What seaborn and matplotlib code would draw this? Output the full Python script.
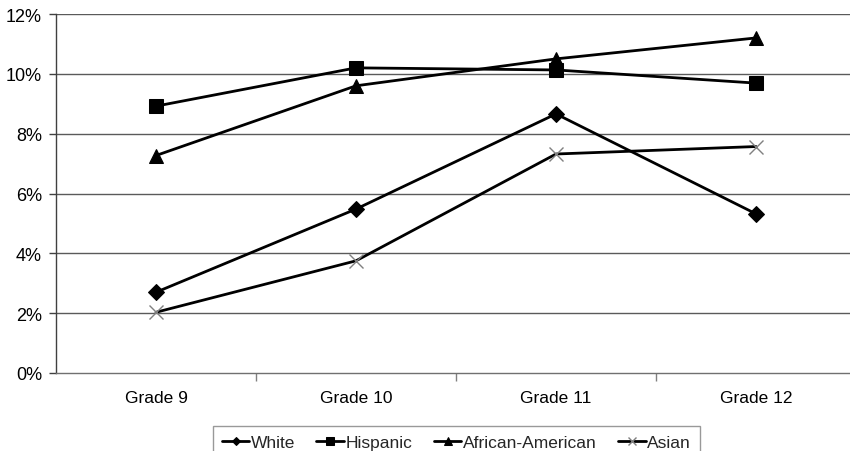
import matplotlib
matplotlib.use("Agg")
import matplotlib.pyplot as plt
import seaborn as sns
import pandas as pd
from matplotlib.ticker import FixedLocator, FuncFormatter

grades = ["Grade 9", "Grade 10", "Grade 11", "Grade 12"]
white = [2.7, 5.48, 8.66, 5.32]
hispanic = [8.92, 10.2, 10.13, 9.69]
african_american = [7.27, 9.6, 10.5, 11.2]
asian = [2.03, 3.75, 7.32, 7.57]
series_names = ["White", "Hispanic", "African-American", "Asian"]
y_ticks = [0, 2, 4, 6, 8, 10, 12]

sns.set_theme(style="white")
plt.rcParams["font.family"] = ["Liberation Sans", "DejaVu Sans"]

fig = plt.figure(figsize=(8.5, 4.52), dpi=100)
ax = fig.add_axes([56 / 850, 1 - 374 / 452, 800 / 850, 359 / 452])

# horizontal gridlines behind the series
for t in y_ticks[1:]:
    ax.axhline(t, color="#5a5a5a", lw=1.0, zorder=0)

styles = {
    "White": dict(marker="D", markersize=8, mec="black", mfc="black"),
    "Hispanic": dict(marker="s", markersize=10, mec="black", mfc="black"),
    "African-American": dict(marker="^", markersize=10, mec="black", mfc="black"),
    "Asian": dict(marker="x", markersize=10, mec="#808080", mew=1.0),
}
values = [white, hispanic, african_american, asian]

for name, vals in zip(series_names, values):
    df = pd.DataFrame({"grade": grades, "pct": vals})
    sns.lineplot(data=df, x="grade", y="pct", ax=ax, color="black", lw=2,
                 label=name, sort=False, zorder=3, **styles[name])

ax.set_xlim(-0.5, 3.5)
ax.set_ylim(0, 12)
ax.set_xlabel("")
ax.set_ylabel("")

ax.yaxis.set_major_locator(FixedLocator(y_ticks))
ax.yaxis.set_major_formatter(FuncFormatter(lambda v, p: f"{v:.0f}%"))
ax.tick_params(axis="y", which="major", direction="out", length=5, width=1,
               color="#404040", pad=5, labelsize=13, labelcolor="black", left=True)

ax.set_xticks(range(len(grades)))
ax.set_xticklabels(grades)
ax.set_xticks([0.5, 1.5, 2.5], minor=True)
ax.tick_params(axis="x", which="major", length=0, pad=12, labelsize=12.5,
               labelcolor="black")
ax.tick_params(axis="x", which="minor", direction="out", length=6, width=1,
               color="#808080", bottom=True)

for s in ["top", "right"]:
    ax.spines[s].set_visible(False)
ax.spines["left"].set_color("#404040")
ax.spines["left"].set_linewidth(1)
ax.spines["bottom"].set_color("#707070")
ax.spines["bottom"].set_linewidth(1)

ax.get_legend().remove()
handles, labels = ax.get_legend_handles_labels()
leg = fig.legend(handles, labels, loc="upper left",
                 bbox_to_anchor=(213 / 850, 1 - 427 / 452), ncol=4,
                 frameon=True, fancybox=False, edgecolor="#808080",
                 fontsize=12.5, handlelength=1.6, handletextpad=0.1,
                 columnspacing=1.2, borderpad=0.5, borderaxespad=0,
                 markerscale=0.55)
leg.get_frame().set_linewidth(1.0)

fig.savefig("out.png", dpi=100)
